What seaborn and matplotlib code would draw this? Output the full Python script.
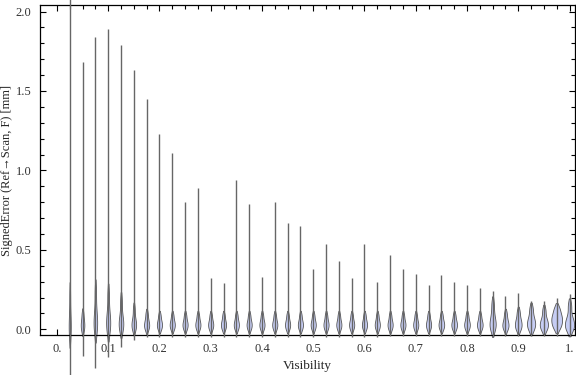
import pandas as pd
import seaborn as sns
import matplotlib.pyplot as plt

# visibility bins (violin centres)
vis = [0.025, 0.05, 0.075, 0.1, 0.125, 0.15, 0.175, 0.2, 0.225, 0.25,
       0.275, 0.3, 0.325, 0.35, 0.375, 0.4, 0.425, 0.45, 0.475, 0.5,
       0.525, 0.55, 0.575, 0.6, 0.625, 0.65, 0.675, 0.7, 0.725, 0.75,
       0.775, 0.8, 0.825, 0.85, 0.875, 0.9, 0.925, 0.95, 0.975, 1.0]

# extremes of each distribution [mm]
err_min = [-0.35, -0.17, -0.245, -0.175, -0.11, -0.07, -0.05, -0.05, -0.05, -0.05,
           -0.05, -0.05, -0.05, -0.05, -0.05, -0.05, -0.05, -0.05, -0.05, -0.05,
           -0.05, -0.05, -0.05, -0.05, -0.05, -0.04, -0.04, -0.04, -0.04, -0.04,
           -0.04, -0.04, -0.04, -0.04, -0.04, -0.04, -0.04, -0.04, -0.04, -0.04]
err_max = [2.25, 1.68, 1.84, 1.89, 1.79, 1.63, 1.45, 1.23, 1.11, 0.80,
           0.89, 0.32, 0.29, 0.94, 0.79, 0.33, 0.80, 0.67, 0.65, 0.38,
           0.535, 0.43, 0.32, 0.535, 0.30, 0.47, 0.38, 0.35, 0.28, 0.34,
           0.30, 0.28, 0.26, 0.24, 0.21, 0.23, 0.18, 0.18, 0.195, 0.22]

# bulk of each distribution (quantiles 10/25/50/75/90 %)
q10 = [-0.04, -0.01, -0.01, -0.01, 0.00, 0.00, 0.00, 0.00, 0.00, 0.00,
       0.00, 0.00, 0.00, 0.00, 0.00, 0.00, 0.00, 0.00, 0.00, 0.00,
       0.00, 0.00, 0.00, 0.00, 0.00, 0.00, 0.00, 0.00, 0.00, 0.00,
       0.00, 0.00, 0.00, 0.00, 0.00, 0.00, 0.00, 0.00, 0.01, 0.00]
q25 = [0.00, 0.015, 0.025, 0.025, 0.02, 0.02, 0.02, 0.02, 0.02, 0.02,
       0.02, 0.02, 0.02, 0.02, 0.02, 0.02, 0.02, 0.02, 0.02, 0.02,
       0.02, 0.02, 0.02, 0.02, 0.02, 0.02, 0.02, 0.02, 0.02, 0.02,
       0.02, 0.02, 0.02, 0.025, 0.02, 0.02, 0.025, 0.02, 0.04, 0.02]
q50 = [0.04, 0.035, 0.06, 0.06, 0.05, 0.04, 0.035, 0.035, 0.035, 0.035,
       0.035, 0.035, 0.035, 0.035, 0.035, 0.035, 0.035, 0.035, 0.035, 0.035,
       0.035, 0.035, 0.035, 0.035, 0.035, 0.035, 0.035, 0.035, 0.035, 0.035,
       0.035, 0.035, 0.035, 0.045, 0.035, 0.04, 0.045, 0.04, 0.065, 0.04]
q75 = [0.10, 0.06, 0.12, 0.11, 0.09, 0.07, 0.06, 0.055, 0.055, 0.055,
       0.055, 0.055, 0.055, 0.055, 0.055, 0.055, 0.055, 0.055, 0.055, 0.055,
       0.055, 0.055, 0.055, 0.055, 0.055, 0.055, 0.055, 0.055, 0.055, 0.055,
       0.055, 0.055, 0.055, 0.09, 0.06, 0.065, 0.075, 0.065, 0.09, 0.075]
q90 = [0.22, 0.10, 0.24, 0.22, 0.18, 0.13, 0.10, 0.09, 0.09, 0.09,
       0.09, 0.09, 0.09, 0.09, 0.09, 0.09, 0.09, 0.09, 0.09, 0.09,
       0.09, 0.09, 0.09, 0.09, 0.09, 0.09, 0.09, 0.09, 0.09, 0.09,
       0.09, 0.09, 0.09, 0.16, 0.10, 0.11, 0.13, 0.12, 0.13, 0.15]

# drawn width of each violin (x units)
bulb_w = [0.004, 0.007, 0.007, 0.008, 0.009, 0.009, 0.010, 0.010, 0.010, 0.010,
          0.010, 0.010, 0.010, 0.010, 0.010, 0.010, 0.010, 0.010, 0.010, 0.010,
          0.010, 0.010, 0.010, 0.010, 0.010, 0.010, 0.010, 0.010, 0.010, 0.011,
          0.011, 0.011, 0.011, 0.012, 0.012, 0.013, 0.016, 0.016, 0.021, 0.018]

xtick_vals = [0.0, 0.1, 0.2, 0.3, 0.4, 0.5, 0.6, 0.7, 0.8, 0.9, 1.0]
xtick_labels = ['0.', '0.1', '0.2', '0.3', '0.4', '0.5', '0.6', '0.7', '0.8', '0.9', '1.']
ytick_vals = [0.0, 0.5, 1.0, 1.5, 2.0]
ytick_labels = ['0.0', '0.5', '1.0', '1.5', '2.0']

rows = []
for i, v in enumerate(vis):
    for q in (q10, q25, q50, q75, q90):
        rows.append((v, q[i]))
df = pd.DataFrame(rows, columns=['Visibility', 'SignedError'])

sns.set_theme(style='ticks')
plt.rcParams['font.family'] = ['Liberation Serif', 'DejaVu Serif']

fig = plt.figure(figsize=(5.76, 3.75), dpi=100)
ax = fig.add_axes([40 / 576, 40 / 375, 535 / 576, 330 / 375])

for v, w in zip(vis, bulb_w):
    sns.violinplot(data=df[df['Visibility'] == v], x='Visibility', y='SignedError',
                   native_scale=True, orient='x', width=w, color='#c6cdf4',
                   saturation=1, linecolor='#555555', linewidth=0.6, inner=None,
                   cut=1.3, bw_adjust=0.8, ax=ax)

ax.vlines(vis, err_min, err_max, color='#666666', lw=1.0, zorder=3)

for c in ax.collections:
    c.set_clip_on(False)

ax.set_xlim(-0.033, 1.0107)
ax.set_ylim(-0.036, 2.041)

ax.set_xticks(xtick_vals)
ax.set_xticklabels(xtick_labels)
ax.set_xticks(vis, minor=True)
ax.set_yticks(ytick_vals)
ax.set_yticklabels(ytick_labels)
ax.set_yticks([k / 10 for k in range(0, 21)], minor=True)

ax.tick_params(which='both', direction='in', colors='black', labelcolor='#333333',
               labelsize=9, top=True, right=True, width=0.8)
ax.tick_params(which='major', length=4.5, pad=6)
ax.tick_params(which='minor', length=3)
ax.tick_params(axis='x', which='minor', bottom=False)

for s in ax.spines.values():
    s.set_visible(True)
    s.set_color('black')
    s.set_linewidth(0.9)

ax.set_xlabel('Visibility', fontsize=9.5, labelpad=3)
ax.set_ylabel('SignedError (Ref\u2192Scan, F) [mm]', fontsize=9)
ax.yaxis.set_label_coords(-0.05, 0.5)

fig.savefig('out.png', dpi=100)
